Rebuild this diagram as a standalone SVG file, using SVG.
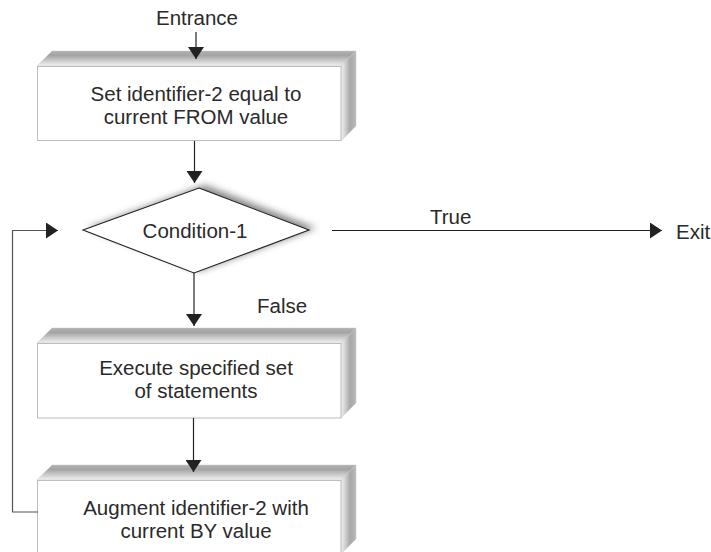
<svg xmlns="http://www.w3.org/2000/svg" width="711" height="552" viewBox="0 0 711 552">
<defs>
<linearGradient id="gTop" x1="0" y1="0" x2="0" y2="1">
<stop offset="0" stop-color="#b0b0b0"/>
<stop offset="0.3" stop-color="#a4a4a4"/>
<stop offset="1" stop-color="#f2f2f2"/>
</linearGradient>
<linearGradient id="gSide" x1="0" y1="0" x2="1" y2="0">
<stop offset="0" stop-color="#f4f4f4"/>
<stop offset="0.6" stop-color="#a8a8a8"/>
<stop offset="1" stop-color="#b8b8b8"/>
</linearGradient>
<filter id="blur" x="-20%" y="-40%" width="140%" height="180%">
<feGaussianBlur stdDeviation="3.5"/>
</filter>
<marker id="arr" viewBox="0 0 12 16" refX="12" refY="8" markerWidth="12" markerHeight="16" markerUnits="userSpaceOnUse" orient="auto">
<path d="M0,0 L12,8 L0,16 z" fill="#222"/>
</marker>
</defs>
<style>
text{font-family:"Liberation Sans",Arial,Helvetica,sans-serif;font-size:20.5px;fill:#2a2a2a}
.c{text-anchor:middle}
.front{fill:#fff;stroke:#bdbdbd;stroke-width:1}
.top{fill:url(#gTop);stroke:#c8c8c8;stroke-width:0.5}
.side{fill:url(#gSide);stroke:#c8c8c8;stroke-width:0.5}
.ln{fill:none;stroke:#222;stroke-width:1.2}
.loop{fill:none;stroke:#555;stroke-width:1.2}
</style>
<rect width="711" height="552" fill="#fff"/>

<g id="entrance">
<text class="c" x="197" y="25">Entrance</text>
</g>

<g id="box1">
<polygon class="top" points="37,66 52,51 356,51 341,66"/>
<polygon class="side" points="341,66 356,51 356,126 341,141"/>
<rect class="front" x="37.5" y="66.5" width="303.5" height="74"/>
<text class="c" x="196" y="101">Set identifier-2 equal to</text>
<text class="c" x="196" y="124">current FROM value</text>
</g>

<g id="condition">
<polygon points="205,185 316,228 199,271 88,228" fill="#6a6a6a" filter="url(#blur)" opacity="0.8"/>
<polygon points="199,188 309,230 194,273 83,230" fill="#fff" stroke="#222" stroke-width="1.1"/>
<text class="c" x="195" y="237.5">Condition-1</text>
</g>

<g id="box2">
<polygon class="top" points="37,343 52,328 356,328 341,343"/>
<polygon class="side" points="341,343 356,328 356,403 341,418"/>
<rect class="front" x="37.5" y="343.5" width="303.5" height="74.5"/>
<text class="c" x="196" y="375">Execute specified set</text>
<text class="c" x="196" y="398">of statements</text>
</g>

<g id="box3">
<polygon class="top" points="37,480 52,465 356,465 341,480"/>
<polygon class="side" points="341,480 356,465 356,539 341,554"/>
<rect class="front" x="37.5" y="480.5" width="303.5" height="80"/>
<text class="c" x="196" y="515">Augment identifier-2 with</text>
<text class="c" x="196" y="538">current BY value</text>
</g>

<g id="exit">
<text x="676" y="238.5">Exit</text>
</g>

<g id="connectors">
<line class="ln" x1="196" y1="32" x2="196" y2="59" marker-end="url(#arr)"/>
<line class="ln" x1="194.5" y1="141" x2="194.5" y2="183" marker-end="url(#arr)"/>
<line class="ln" x1="194" y1="273" x2="194" y2="326" marker-end="url(#arr)"/>
<line class="ln" x1="193.5" y1="418" x2="193.5" y2="472" marker-end="url(#arr)"/>
<line class="ln" x1="332" y1="230.5" x2="662" y2="230.5" marker-end="url(#arr)"/>
<path class="loop" d="M38,512 H12.5 V230.5 H58" marker-end="url(#arr)"/>
<text x="430" y="224">True</text>
<text x="257" y="313">False</text>
</g>
</svg>
